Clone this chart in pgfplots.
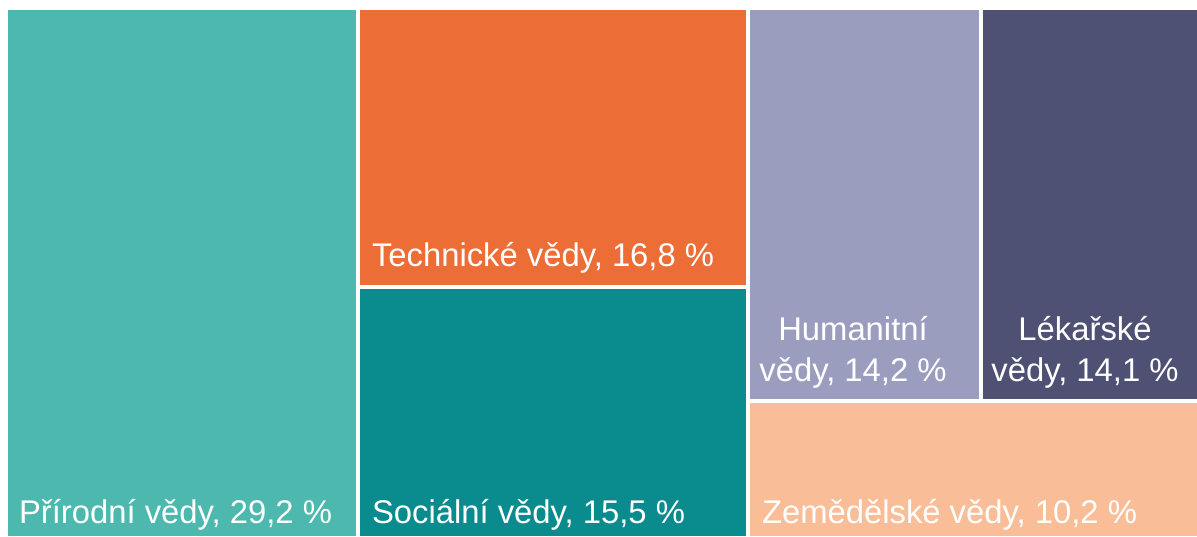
\documentclass[border=0pt]{standalone}
\usepackage{fontspec}
\setmainfont{Liberation Sans}
\usepackage{pgfplots}
\pgfplotsset{compat=1.18}
\definecolor{cPri}{HTML}{4DB8AE}
\definecolor{cTech}{HTML}{ED6D36}
\definecolor{cSoc}{HTML}{0A8B8D}
\definecolor{cHum}{HTML}{9B9DBF}
\definecolor{cLek}{HTML}{4E5074}
\definecolor{cZem}{HTML}{F9BE98}
\tikzset{lbl/.style={font=\fontsize{16.4}{19}\selectfont, text=white, inner sep=0pt, outer sep=0pt}}
\begin{document}
\begin{tikzpicture}
\begin{axis}[
  width=598.5pt, height=268pt, scale only axis,
  xmin=0, xmax=1197, ymin=0, ymax=536, y dir=reverse,
  hide axis, clip=true,
]
\addplot[fill=white, draw=none] coordinates {(0,0) (1197,0) (1197,536) (0,536)} -- cycle;
% Přírodní vědy 29,2 %
\addplot[fill=cPri, draw=none] coordinates {(8,10) (355.5,10) (355.5,536) (8,536)} -- cycle;
% Technické vědy 16,8 %
\addplot[fill=cTech, draw=none] coordinates {(360,10) (746,10) (746,284.5) (360,284.5)} -- cycle;
% Sociální vědy 15,5 %
\addplot[fill=cSoc, draw=none] coordinates {(360,289) (746,289) (746,536) (360,536)} -- cycle;
% Humanitní vědy 14,2 %
\addplot[fill=cHum, draw=none] coordinates {(750,10) (979,10) (979,399) (750,399)} -- cycle;
% Lékařské vědy 14,1 %
\addplot[fill=cLek, draw=none] coordinates {(983,10) (1197,10) (1197,399) (983,399)} -- cycle;
% Zemědělské vědy 10,2 %
\addplot[fill=cZem, draw=none] coordinates {(750,403) (1197,403) (1197,536) (750,536)} -- cycle;

\node[lbl, anchor=base west] at (axis cs:19,523) {Přírodní vědy, 29,2 \%};
\node[lbl, anchor=base west] at (axis cs:372,266) {Technické vědy, 16,8 \%};
\node[lbl, anchor=base west] at (axis cs:372,523) {Sociální vědy, 15,5 \%};
\node[lbl, anchor=base] at (axis cs:853,340) {Humanitní};
\node[lbl, anchor=base] at (axis cs:853,381) {vědy, 14,2 \%};
\node[lbl, anchor=base] at (axis cs:1085,340) {Lékařské};
\node[lbl, anchor=base] at (axis cs:1085,381) {vědy, 14,1 \%};
\node[lbl, anchor=base west] at (axis cs:762,523) {Zemědělské vědy, 10,2 \%};
\end{axis}
\end{tikzpicture}
\end{document}
